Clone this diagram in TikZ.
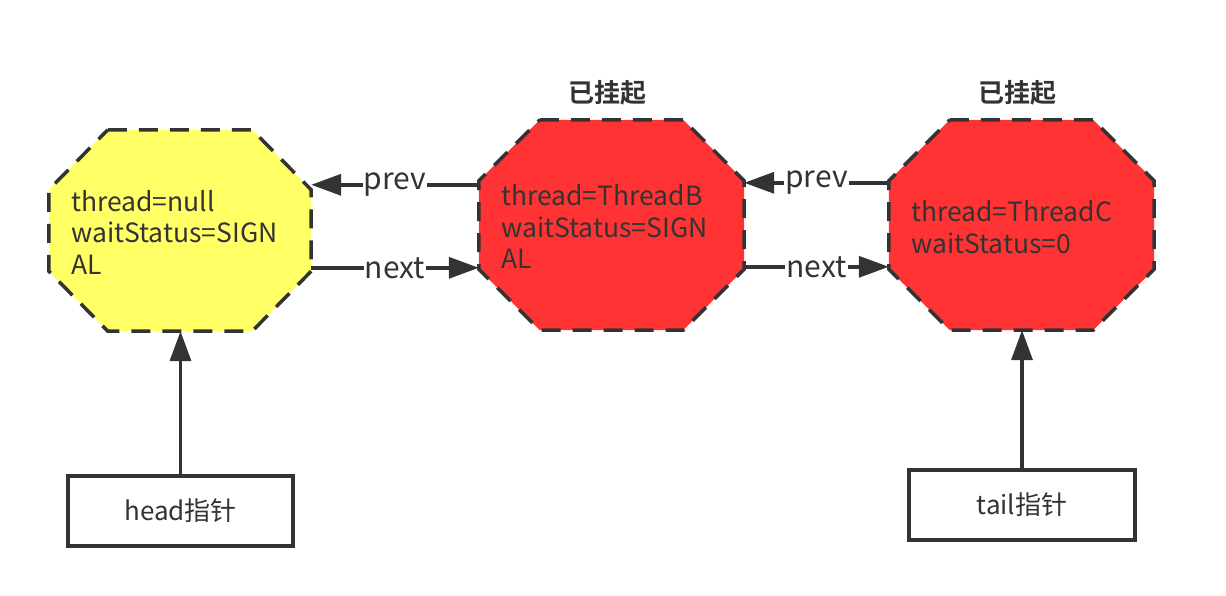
\documentclass[tikz,border=0pt]{standalone}
\usepackage{fontspec}
\setmainfont{Noto Sans CJK SC}[BoldFont={* Bold}]
\usetikzlibrary{arrows.meta,calc}
\definecolor{ink}{HTML}{333333}
\definecolor{yel}{HTML}{FFFF66}
\definecolor{redf}{HTML}{FF3333}
\begin{document}
\begin{tikzpicture}[x=1pt,y=-1pt,
  holder/.style={draw=none,inner sep=0pt},
  oct/.style={draw=ink,line width=3.5pt,dash pattern=on 19pt off 12pt,line join=miter},
  body/.style={text=ink,font=\fontsize{26.5}{31.5}\selectfont,align=left,anchor=base west,inner sep=0pt},
  title/.style={text=ink,font=\fontsize{26}{30}\selectfont\bfseries,anchor=base,inner sep=0pt},
  ptrbox/.style={draw=ink,line width=3.5pt,fill=white,text=ink,font=\fontsize{26}{30}\selectfont},
  arr/.style={draw=ink,line width=3.5pt,-{Triangle[length=30pt,width=21pt]}},
  lbl/.style={fill=white,text=ink,font=\fontsize{30}{34}\selectfont,inner sep=1pt}]
\useasboundingbox[fill=white] (0,0) rectangle (1226,596);

% holder nodes for the octagons
\node[holder,minimum width=262pt,minimum height=201pt] (Y) at (180,230.5) {};
\node[holder,minimum width=265pt,minimum height=210pt] (B) at (611.5,225) {};
\node[holder,minimum width=265pt,minimum height=210pt] (C) at (1021.5,225) {};

\foreach \n/\cx/\cy/\col in {Y/59/60/yel, B/61/61/redf, C/61/61/redf}
  \path[oct,fill=\col] ($(\n.north west)+(\cx,0)$) -- ($(\n.north east)+(-\cx,0)$)
    -- ($(\n.north east)+(0,\cy)$) -- ($(\n.south east)+(0,-\cy)$)
    -- ($(\n.south east)+(-\cx,0)$) -- ($(\n.south west)+(\cx,0)$)
    -- ($(\n.south west)+(0,-\cy)$) -- ($(\n.north west)+(0,\cy)$) -- cycle;

% texts (anchored at the baseline of the last line)
\node[body] (Yt) at (71,274) {thread=null\\waitStatus=SIGN\\AL};
\node[body] (Bt) at (501,269) {thread=ThreadB\\waitStatus=SIGN\\AL};
\node[body] (Ct) at (911,253) {thread=ThreadC\\waitStatus=0};

\node[title] (Bl) at (607,103) {已挂起};
\node[title] (Cl) at (1017,103) {已挂起};

% pointer boxes
\node[ptrbox,minimum width=225pt,minimum height=70pt] (H) at (180.5,511) {head指针};
\node[ptrbox,minimum width=226pt,minimum height=70pt] (T) at (1022,505) {tail指针};

% connectors
\draw[arr] ($(B.north west)+(0,65)$) -- node[lbl] (p1) {prev} ($(Y.north east)+(0,55)$);
\draw[arr] ($(Y.north east)+(0,138)$) -- node[lbl] (n1) {next} ($(B.north west)+(0,148)$);
\draw[arr] ($(C.north west)+(0,63)$) -- node[lbl] (p2) {prev} ($(B.north east)+(0,63)$);
\draw[arr] ($(B.north east)+(0,147)$) -- node[lbl] (n2) {next} ($(C.north west)+(0,147)$);
\draw[arr] (H.north) -- (H.north |- Y.south);
\draw[arr] (T.north) -- (T.north |- C.south);
\end{tikzpicture}
\end{document}
